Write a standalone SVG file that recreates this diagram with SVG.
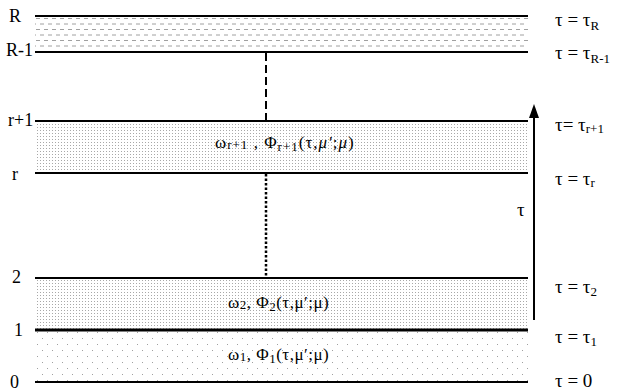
<svg xmlns="http://www.w3.org/2000/svg" width="620" height="392" viewBox="0 0 620 392">
<defs>
<pattern id="dashes" width="8" height="11" patternUnits="userSpaceOnUse">
<line x1="0" y1="2" x2="4" y2="2" stroke="#a0a0a0" stroke-width="1"/>
<line x1="4" y1="7.5" x2="8" y2="7.5" stroke="#a0a0a0" stroke-width="1"/>
</pattern>
<pattern id="dense" width="3" height="3" patternUnits="userSpaceOnUse">
<rect x="1" y="1" width="1" height="1" fill="#a8a8a8"/>
</pattern>
<pattern id="sparse" width="10" height="12" patternUnits="userSpaceOnUse">
<rect x="2" y="2" width="1" height="1" fill="#a0a0a0"/>
<rect x="7" y="8" width="1" height="1" fill="#a0a0a0"/>
</pattern>
</defs>
<style>
.lbl{font-family:"Liberation Serif","Times New Roman",serif;font-size:18px;fill:#000}
.tl{font-family:"Liberation Serif","Times New Roman",serif;font-size:19px;fill:#000}
.lay{font-family:"Liberation Serif","Times New Roman",serif;font-size:17px;fill:#000}
.sub{font-size:13px}
.bd{stroke:#000;stroke-width:2}
</style>
<g id="layer-R">
<rect x="35" y="17" width="493" height="34" fill="url(#dashes)"/>
<line class="bd" x1="35" y1="16" x2="528" y2="16"/>
<text class="lbl" x="9" y="22">R</text>
<text class="tl" x="555" y="26">τ = τ<tspan class="sub" dy="4">R</tspan></text>
</g>
<g id="layer-R-1">
<line class="bd" x1="35" y1="52" x2="528" y2="52"/>
<text class="lbl" x="6" y="56">R-1</text>
<text class="tl" x="555" y="59">τ = τ<tspan class="sub" dy="4">R-1</tspan></text>
</g>
<g id="layer-r1">
<rect x="35" y="122" width="493" height="51" fill="url(#dense)"/>
<line class="bd" x1="35" y1="121" x2="528" y2="121"/>
<text class="lbl" x="8" y="126">r+1</text>
<text class="tl" x="555" y="131">τ= τ<tspan class="sub" dy="2">r+1</tspan></text>
<text class="lay" x="215" y="148" letter-spacing="1">ω<tspan class="sub" dy="1">r+1</tspan><tspan dy="-1"> ,  Φ</tspan><tspan class="sub" dy="3">r+1</tspan><tspan dy="-3">(τ,</tspan><tspan font-style="italic">μ′</tspan>;<tspan font-style="italic">μ</tspan>)</text>
</g>
<g id="layer-r">
<line class="bd" x1="35" y1="173" x2="528" y2="173"/>
<text class="lbl" x="12" y="180">r</text>
<text class="tl" x="555" y="185">τ = τ<tspan class="sub" dy="2">r</tspan></text>
</g>
<g id="layer-2">
<rect x="35" y="279" width="493" height="50" fill="url(#dense)"/>
<line class="bd" x1="35" y1="278" x2="528" y2="278"/>
<text class="lbl" x="12" y="283">2</text>
<text class="tl" x="555" y="293">τ = τ<tspan class="sub" dy="3">2</tspan></text>
<text class="lay" x="228" y="308" letter-spacing="0.5">ω<tspan class="sub" dy="1">2</tspan><tspan dy="-1">,  Φ</tspan><tspan class="sub" dy="3">2</tspan><tspan dy="-3">(τ,μ′;μ)</tspan></text>
</g>
<g id="layer-1">
<rect x="35" y="331" width="493" height="51" fill="url(#sparse)"/>
<line stroke="#000" stroke-width="3" x1="35" y1="330" x2="528" y2="330"/>
<text class="lbl" x="14" y="336">1</text>
<text class="tl" x="555" y="343">τ = τ<tspan class="sub" dy="3">1</tspan></text>
<text class="lay" x="228" y="360" letter-spacing="0.5">ω<tspan class="sub" dy="1">1</tspan><tspan dy="-1">,  Φ</tspan><tspan class="sub" dy="3">1</tspan><tspan dy="-3">(τ,μ′;μ)</tspan></text>
</g>
<g id="layer-0">
<line class="bd" x1="35" y1="382" x2="528" y2="382"/>
<text class="lbl" x="10" y="388">0</text>
<text class="tl" x="555" y="387">τ = 0</text>
</g>
<g id="connectors">
<line x1="266" y1="53" x2="266" y2="120" stroke="#000" stroke-width="2" stroke-dasharray="8,4"/>
<line x1="266" y1="174" x2="266" y2="277" stroke="#000" stroke-width="2.5" stroke-dasharray="2.5,2"/>
<line x1="534" y1="320" x2="534" y2="115" stroke="#000" stroke-width="2"/>
<polygon points="534,104 529,118 539,118" fill="#000"/>
<text class="tl" x="517" y="216">τ</text>
</g>
</svg>
